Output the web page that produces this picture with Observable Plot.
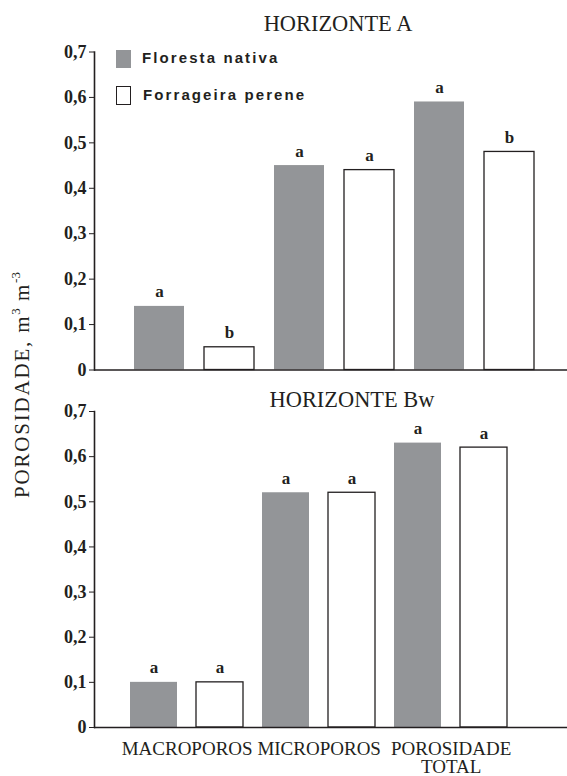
<!DOCTYPE html>
<html><head><meta charset="utf-8">
<script src="https://cdn.jsdelivr.net/npm/d3@7"></script>
<script src="https://cdn.jsdelivr.net/npm/@observablehq/plot@0.6"></script>
<style>
body{margin:0;background:#fff}
#wrap{position:relative;width:567px;height:776px;overflow:hidden;font-family:"Liberation Serif","Times New Roman",serif;color:#231f20;background:#fff}
#wrap svg{position:absolute;left:0}
.title{position:absolute;font-size:22.4px;line-height:22px;white-space:nowrap;transform:translateX(-50%)}
.ylab{position:absolute;font-size:21px;line-height:21px;letter-spacing:1.8px;white-space:nowrap;transform:translate(-50%,-50%) rotate(-90deg)}
.ylab sup{font-size:13px;vertical-align:9px;line-height:0;letter-spacing:0}
.sw{position:absolute;box-sizing:border-box}
.lt{position:absolute;font-family:"Liberation Sans",Arial,sans-serif;font-weight:bold;font-size:15px;line-height:15px;letter-spacing:2.1px;white-space:nowrap}
</style></head><body><div id="wrap"></div><script>
// ---- data ----
const categories = ["MACROPOROS", "MICROPOROS", "POROSIDADE\nTOTAL"];
const series = ["Floresta nativa", "Forrageira perene"];
const aFloresta = [0.14, 0.45, 0.59];
const aForrageira = [0.05, 0.44, 0.48];
const aLetrasFloresta = ["a", "a", "a"];
const aLetrasForrageira = ["b", "a", "b"];
const bwFloresta = [0.10, 0.52, 0.63];
const bwForrageira = [0.10, 0.52, 0.62];
const bwLetrasFloresta = ["a", "a", "a"];
const bwLetrasForrageira = ["a", "a", "a"];
const yTicks = [0, 0.1, 0.2, 0.3, 0.4, 0.5, 0.6, 0.7];
const titles = ["HORIZONTE A", "HORIZONTE Bw"];

const gray = "#939598", ink = "#231f20";
const keyOf = (i, s) => i + "|" + s;
const keys = categories.flatMap((c, i) => series.map(s => keyOf(i, s)));

function rowsFor(fl, fo, lf, lo) {
  return categories.flatMap((c, i) => [
    {key: keyOf(i, series[0]), series: series[0], value: fl[i], letter: lf[i]},
    {key: keyOf(i, series[1]), series: series[1], value: fo[i], letter: lo[i]}
  ]);
}

function panel({rows, height, marginTop, marginBottom, xRange, pi, po, withCategories}) {
  const step = (xRange[1] - xRange[0]) / (keys.length - pi + 2 * po);
  const marks = [
    Plot.barY(rows.filter(d => d.series === series[0]), {x: "key", y: "value", fill: gray}),
    Plot.barY(rows.filter(d => d.series === series[1]), {x: "key", y: "value", fill: "white", stroke: ink, strokeWidth: 1.3}),
    Plot.text(rows, {x: "key", y: "value", text: "letter", lineAnchor: "bottom", dy: -9, fontWeight: "bold", fontSize: 17, fill: ink}),
    Plot.ruleY([0], {stroke: ink, strokeWidth: 1.6}),
    Plot.frame({anchor: "left", stroke: ink, strokeWidth: 1.6}),
    Plot.axisY({ticks: yTicks, tickFormat: d => d === 0 ? "0" : d.toFixed(1).replace(".", ","), tickSize: 5, tickPadding: 3, fontSize: 18, fontWeight: "bold", stroke: ink, fill: ink, label: null})
  ];
  if (withCategories) {
    marks.push(Plot.text(categories.map((c, i) => ({key: keyOf(i, series[0]), c})), {
      x: "key", text: "c", frameAnchor: "bottom", lineAnchor: "top", dy: 13.5, dx: step / 2,
      fontSize: 19, lineHeight: 1, fill: ink
    }));
  }
  return Plot.plot({
    width: 567, height, marginLeft: 94, marginRight: 0, marginTop, marginBottom,
    style: {fontFamily: "Liberation Serif, Times New Roman, serif", color: ink, background: "transparent", overflow: "visible"},
    x: {domain: keys, range: xRange, paddingInner: pi, paddingOuter: po, axis: null},
    y: {domain: [0, 0.7], axis: null},
    marks
  });
}

const wrap = document.getElementById("wrap");
const topPanel = panel({rows: rowsFor(aFloresta, aForrageira, aLetrasFloresta, aLetrasForrageira), height: 380, marginTop: 51.5, marginBottom: 10.5, xRange: [94, 573.5], pi: 0.288, po: 0.538, withCategories: false});
topPanel.style.top = "0px";
wrap.appendChild(topPanel);
const botPanel = panel({rows: rowsFor(bwFloresta, bwForrageira, bwLetrasFloresta, bwLetrasForrageira), height: 396, marginTop: 31, marginBottom: 49, xRange: [93, 544.6], pi: 0.284, po: 0.548, withCategories: true});
botPanel.style.top = "380px";
wrap.appendChild(botPanel);

function addDiv(cls, css, html) {
  const d = document.createElement("div");
  d.className = cls; d.style.cssText = css; d.innerHTML = html; wrap.appendChild(d); return d;
}
addDiv("title", "left:338px;top:12.6px", titles[0]);
addDiv("title", "left:352px;top:388.6px", titles[1]);
addDiv("ylab", "left:22px;top:385px", "POROSIDADE, m<sup>3</sup> m<sup>-3</sup>");
addDiv("sw", `left:116px;top:50px;width:15px;height:18px;background:${gray}`, "");
addDiv("sw", `left:116px;top:86px;width:15px;height:19px;background:#fff;border:1.3px solid ${ink}`, "");
addDiv("lt", "left:142px;top:50.3px", series[0]);
addDiv("lt", "left:143px;top:87.3px", series[1]);
</script></body></html>
